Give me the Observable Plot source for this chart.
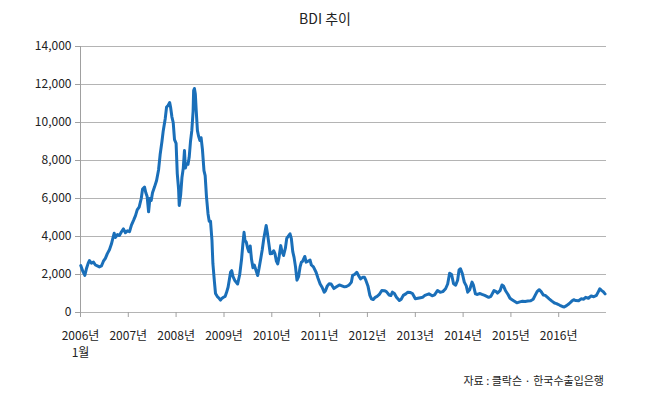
<!DOCTYPE html>
<html>
<head>
<meta charset="utf-8">
<script src="https://cdn.jsdelivr.net/npm/d3@7"></script>
<script src="https://cdn.jsdelivr.net/npm/@observablehq/plot@0.6"></script>
<style>
  html, body { margin: 0; padding: 0; background: #fff; }
  body { width: 650px; height: 408px; overflow: hidden; font-family: "Noto Sans CJK KR", "Noto Sans", sans-serif; color: #222; }
  #title { height: 34px; box-sizing: border-box; padding-top: 9px; font-size: 14px; line-height: 18px; text-align: center; color: #222; }
  #caption { width: 604px; text-align: right; font-size: 11px; line-height: 14px; color: #222; margin-top: 9px; }
  svg { display: block; }
</style>
</head>
<body>
<div id="title">BDI 추이</div>
<div id="chart"></div>
<div id="caption">자료 : 클락슨 · 한국수출입은행</div>
<script>
const dates = [
"2006-01-03","2006-01-20","2006-02-03","2006-02-15","2006-03-01","2006-03-10","2006-03-25","2006-04-10","2006-04-25","2006-05-10","2006-05-25","2006-06-10","2006-06-25","2006-07-10","2006-07-25","2006-08-10","2006-08-25","2006-09-05","2006-09-15","2006-09-25","2006-10-10","2006-10-25","2006-11-10","2006-11-25","2006-12-10","2006-12-25",
"2007-01-10","2007-01-25","2007-02-10","2007-02-25","2007-03-10","2007-03-25","2007-04-10","2007-04-20","2007-05-05","2007-05-15","2007-05-25","2007-06-05","2007-06-15","2007-06-25","2007-07-05","2007-07-20","2007-08-05","2007-08-20","2007-09-01","2007-09-15","2007-09-25","2007-10-10","2007-10-20","2007-11-01","2007-11-13","2007-11-20","2007-11-30","2007-12-10","2007-12-20",
"2008-01-01","2008-01-10","2008-01-20","2008-01-25","2008-02-05","2008-02-15","2008-02-25","2008-03-05","2008-03-12","2008-03-20","2008-04-01","2008-04-10","2008-04-20","2008-04-30","2008-05-10","2008-05-14","2008-05-20","2008-05-27","2008-06-03","2008-06-12","2008-06-20","2008-07-01","2008-07-10","2008-07-20","2008-08-01","2008-08-10","2008-08-20","2008-09-01","2008-09-10","2008-09-20","2008-10-01","2008-10-08","2008-10-20","2008-10-28","2008-11-10","2008-11-20","2008-12-05","2008-12-15","2008-12-28",
"2009-01-10","2009-01-20","2009-02-01","2009-02-10","2009-02-20","2009-03-01","2009-03-10","2009-03-25","2009-04-15","2009-05-01","2009-05-15","2009-05-25","2009-06-03","2009-06-10","2009-06-20","2009-06-30","2009-07-10","2009-07-20","2009-07-30","2009-08-10","2009-08-20","2009-09-01","2009-09-15","2009-09-25","2009-10-10","2009-10-20","2009-11-01","2009-11-19","2009-11-28","2009-12-10","2009-12-20",
"2010-01-01","2010-01-15","2010-01-25","2010-02-05","2010-02-15","2010-02-25","2010-03-10","2010-03-20","2010-04-01","2010-04-15","2010-04-25","2010-05-20","2010-05-30","2010-06-10","2010-06-20","2010-07-01","2010-07-12","2010-07-25","2010-08-05","2010-08-15","2010-08-25","2010-09-10","2010-09-20","2010-10-05","2010-10-20","2010-10-30","2010-11-15","2010-12-05","2010-12-20",
"2011-01-05","2011-01-20","2011-02-05","2011-02-15","2011-03-01","2011-03-15","2011-03-30","2011-04-20","2011-05-10","2011-06-01","2011-06-20","2011-07-10","2011-07-25","2011-08-15","2011-09-01","2011-09-10","2011-09-25","2011-10-12","2011-10-25","2011-11-10","2011-11-25","2011-12-10","2011-12-20",
"2012-01-05","2012-01-20","2012-02-01","2012-02-15","2012-03-01","2012-03-15","2012-04-01","2012-04-20","2012-05-10","2012-05-25","2012-06-15","2012-06-28","2012-07-10","2012-07-25","2012-08-10","2012-09-01","2012-09-15","2012-10-01","2012-10-20","2012-11-05","2012-11-25","2012-12-10",
"2013-01-01","2013-01-20","2013-02-10","2013-02-25","2013-03-15","2013-04-15","2013-05-10","2013-05-28","2013-06-20","2013-07-10","2013-07-30","2013-08-20","2013-09-05","2013-09-20","2013-10-05","2013-10-20","2013-11-05","2013-11-20","2013-12-01","2013-12-12","2013-12-25",
"2014-01-10","2014-01-25","2014-02-05","2014-02-20","2014-03-10","2014-03-20","2014-04-05","2014-04-20","2014-05-10","2014-05-25","2014-06-15","2014-07-15","2014-08-01","2014-08-25","2014-09-10","2014-09-20","2014-10-10","2014-10-25","2014-11-05","2014-11-20","2014-12-10","2014-12-25",
"2015-01-10","2015-01-25","2015-02-15","2015-03-10","2015-03-30","2015-04-20","2015-05-10","2015-06-01","2015-06-20","2015-07-05","2015-07-20","2015-08-05","2015-08-20","2015-09-05","2015-09-20","2015-10-10","2015-10-20","2015-11-10","2015-11-30","2015-12-15",
"2016-01-10","2016-02-05","2016-02-12","2016-03-01","2016-03-20","2016-04-10","2016-04-25","2016-05-10","2016-06-01","2016-06-20","2016-07-10","2016-07-25","2016-08-15","2016-09-05","2016-09-25","2016-10-15","2016-10-30","2016-11-10","2016-11-20","2016-12-05","2016-12-20"
];
const bdi = [
2470,2150,1950,2300,2600,2735,2600,2650,2500,2450,2400,2450,2700,2850,3100,3300,3600,3900,4170,3950,4100,4050,4250,4400,4200,4300,
4250,4600,4850,5100,5400,5550,6000,6500,6600,6300,6100,5300,6000,5900,6300,6600,6950,7500,8300,9000,9570,10200,10800,10900,11050,10800,10300,10000,9100,
8900,7310,6500,5630,6200,7120,7600,8520,7600,7820,7800,8170,9000,9570,10600,11680,11790,11500,10600,9570,9300,9050,9200,8600,7470,7200,6100,5190,4800,4800,3800,2580,1600,1000,850,780,650,740,800,
850,1050,1330,1700,2120,2200,1900,1680,1500,2000,2800,3600,4220,3800,3700,3400,3200,3500,2800,2360,2500,2250,1950,2300,2900,3300,3900,4580,4200,3600,3090,
3100,3250,3100,2700,2560,2900,3520,3200,3000,3400,3900,4140,3900,3200,2900,2400,1700,1900,2400,2650,2700,2950,2650,2700,2760,2500,2400,2120,1800,
1500,1330,1070,1150,1400,1510,1500,1260,1350,1450,1400,1350,1370,1450,1600,1950,2000,2120,1950,1770,1850,1850,1700,
1400,900,720,680,800,850,950,1160,1150,1100,920,890,1070,1000,800,630,700,900,980,1070,1050,1000,
720,750,780,800,900,980,880,930,1160,1070,1100,1250,1500,2070,2000,1510,1440,1700,2240,2300,2070,
1600,1400,1070,1200,1600,1450,980,950,1000,950,900,800,850,1160,1100,1020,1150,1450,1400,1160,950,750,
670,600,510,560,590,580,600,620,700,900,1100,1200,1100,920,900,780,720,600,500,470,
380,300,290,360,460,600,670,630,620,720,700,800,750,870,830,900,1100,1250,1180,1100,980
];
const yTicks = [0, 2000, 4000, 6000, 8000, 10000, 12000, 14000];
const xTickYears = [2006, 2007, 2008, 2009, 2010, 2011, 2012, 2013, 2014, 2015, 2016];

const data = dates.map((d, i) => ({date: new Date(d + "T00:00:00Z"), value: bdi[i]}));
const xTicks = xTickYears.map(y => new Date(Date.UTC(y, 0, 1)));
const x0 = new Date(Date.UTC(2006, 0, 1));
const x1 = new Date(Date.UTC(2016, 11, 31));

const chart = Plot.plot({
  width: 650,
  height: 330,
  marginTop: 12,
  marginBottom: 52,
  marginLeft: 80,
  marginRight: 44,
  style: {fontFamily: '"Noto Sans CJK KR", "Noto Sans", sans-serif', fontSize: "12px", color: "#222", background: "#fff"},
  x: {type: "utc", domain: [x0, x1]},
  y: {domain: [0, 14000]},
  marks: [
    Plot.gridY(yTicks, {stroke: "#b4b4b4", strokeOpacity: 1, strokeWidth: 1}),
    Plot.ruleX([x0], {stroke: "#a0a0a0", strokeWidth: 1}),
    Plot.axisY({ticks: yTicks, tickFormat: d3.format(","), tickSize: 5, tickPadding: 4, label: null, stroke: "#a0a0a0", fill: "#222", fontSize: 12}),
    Plot.axisX({ticks: xTicks, tickFormat: d => d.getUTCFullYear() === 2006 ? "2006년\n1월" : d.getUTCFullYear() + "년", tickSize: 5, tickPadding: 11, lineHeight: 1.4, label: null, stroke: "#a0a0a0", fill: "#222", fontSize: 12}),
    Plot.line(data, {x: "date", y: "value", stroke: "#1a6fb9", strokeWidth: 3, strokeLinejoin: "round", strokeLinecap: "round", curve: "linear"})
  ]
});
document.getElementById("chart").appendChild(chart);
</script>
</body>
</html>
